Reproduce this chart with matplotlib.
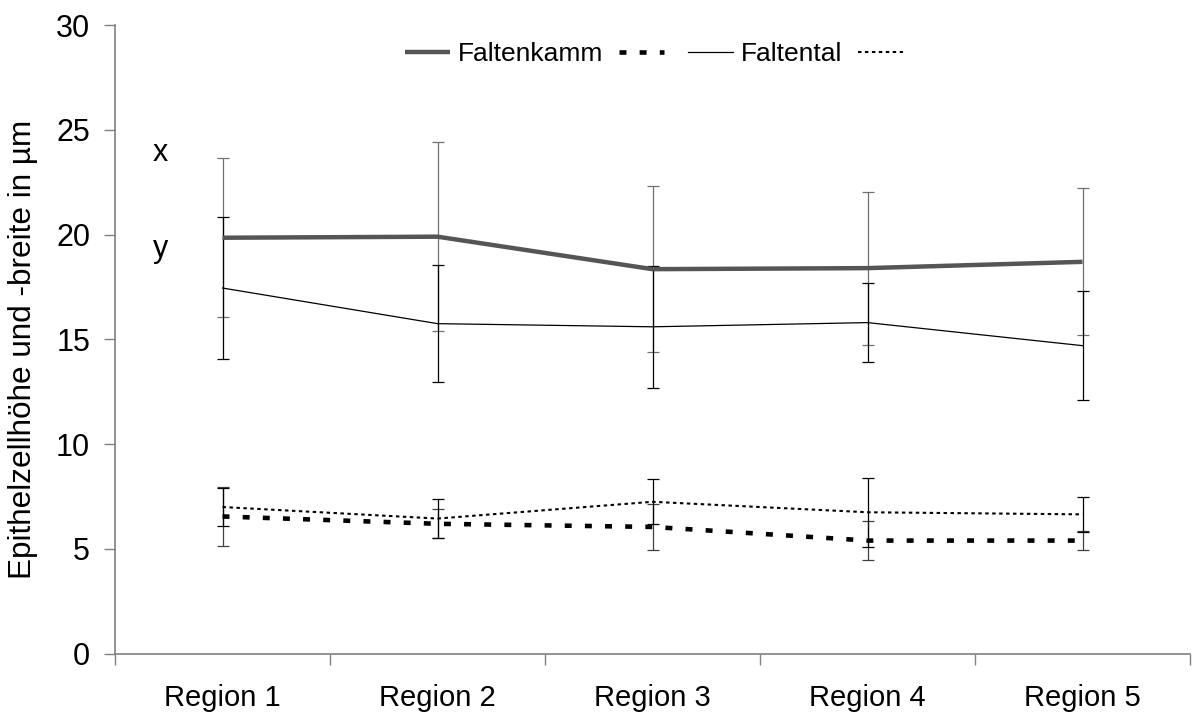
import matplotlib.pyplot as plt

plt.rcParams['font.family'] = ['Liberation Sans', 'DejaVu Sans']
plt.rcParams['lines.scale_dashes'] = False

regionen = ["Region 1", "Region 2", "Region 3", "Region 4", "Region 5"]

# Faltenkamm (Hoehe x / Breite y), Faltental (Hoehe x / Breite y)
kamm_hoehe = [19.85, 19.9, 18.35, 18.4, 18.7]
kamm_hoehe_sd = [3.8, 4.5, 3.95, 3.65, 3.5]
kamm_breite = [6.55, 6.2, 6.05, 5.4, 5.4]
kamm_breite_sd = [1.4, 0.7, 1.08, 0.95, 0.45]

tal_hoehe = [17.45, 15.75, 15.6, 15.8, 14.7]
tal_hoehe_sd = [3.4, 2.8, 2.9, 1.9, 2.6]
tal_breite = [7.0, 6.45, 7.25, 6.75, 6.65]
tal_breite_sd = [0.9, 0.95, 1.08, 1.65, 0.82]

x = list(range(len(regionen)))

fig = plt.figure(figsize=(11.96, 7.15), dpi=100)
ax = fig.add_axes([0.0962, 0.0857, 0.8988, 0.8793])

eb = dict(fmt='none', capsize=4, elinewidth=0.9, capthick=0.9)
ax.errorbar(x, kamm_hoehe, yerr=kamm_hoehe_sd, ecolor='#707070', **eb)
ax.errorbar(x, tal_hoehe, yerr=tal_hoehe_sd, ecolor='black', **eb)
ax.errorbar(x, kamm_breite, yerr=kamm_breite_sd, ecolor='#404040', **eb)
ax.errorbar(x, tal_breite, yerr=tal_breite_sd, ecolor='black', **eb)

l1, = ax.plot(x, kamm_hoehe, color='#555555', lw=3.2, solid_capstyle='butt')
l2, = ax.plot(x, kamm_breite, color='black', lw=3.3, linestyle=(0, (5, 9.5)))
l3, = ax.plot(x, tal_hoehe, color='black', lw=0.9)
l4, = ax.plot(x, tal_breite, color='black', lw=1.5, linestyle=(0, (2.5, 2.5)))

ax.legend([l1, l2, l3, l4], ["Faltenkamm", "", "Faltental", ""], ncol=4,
          loc='upper center', bbox_to_anchor=(0.505, 1.01), frameon=False,
          fontsize=19, handlelength=1.7, columnspacing=0.6, handletextpad=0.3)

ax.text(-0.29, 23.9, "x", fontsize=22, va='center', ha='center')
ax.text(-0.29, 19.3, "y", fontsize=22, va='center', ha='center')

ax.set_xlim(-0.5, 4.5)
ax.set_ylim(0, 30)
ax.set_yticks(range(0, 31, 5))
ax.set_xticks(x)
ax.set_xticklabels(regionen)
ax.set_xticks([i - 0.5 for i in range(6)], minor=True)
ax.tick_params(axis='x', which='major', length=0, pad=22, labelsize=21)
ax.tick_params(axis='x', which='minor', length=8, color='#808080', width=1)
ax.tick_params(axis='y', length=8, color='#808080', width=1, labelsize=22, pad=10)

for s in ['top', 'right']:
    ax.spines[s].set_visible(False)
for s in ['left', 'bottom']:
    ax.spines[s].set_color('#808080')
    ax.spines[s].set_linewidth(1.2)

ax.set_ylabel("Epithelzellhöhe und -breite in µm", fontsize=22.7)
ax.yaxis.set_label_coords(-0.0716, 0.484)

fig.savefig("out.png", dpi=100)
